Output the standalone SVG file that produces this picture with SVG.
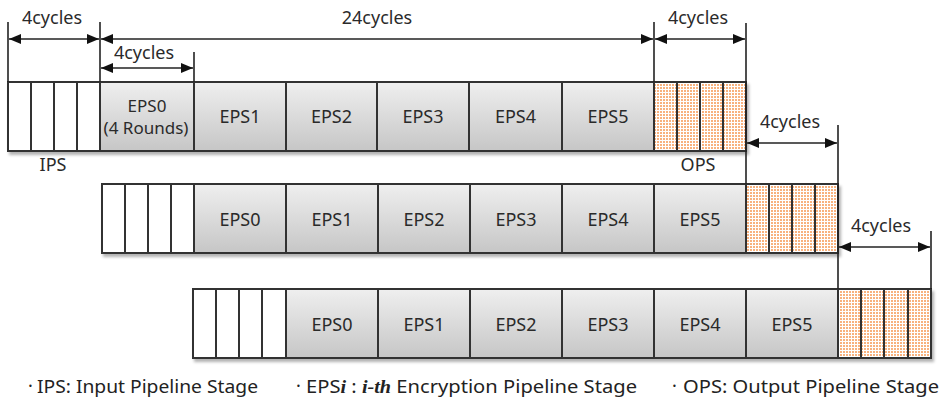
<svg xmlns="http://www.w3.org/2000/svg" width="943" height="403" viewBox="0 0 943 403">
  <defs>
    <linearGradient id="epsFill" x1="0" y1="0" x2="0" y2="1">
      <stop offset="0" stop-color="#efefef"/>
      <stop offset="1" stop-color="#c6c6c6"/>
    </linearGradient>
    <pattern id="opsDots" width="3" height="3" patternUnits="userSpaceOnUse">
      <rect width="3" height="3" fill="#ffffff"/>
      <rect width="2" height="2" fill="#f8b27e"/>
    </pattern>
    <filter id="shadow" x="-5%" y="-10%" width="115%" height="130%">
      <feDropShadow dx="2" dy="3" stdDeviation="1.6" flood-color="#000" flood-opacity="0.3"/>
    </filter>
    <marker id="arrow" viewBox="0 0 12 10" refX="12" refY="5" markerWidth="12" markerHeight="10" markerUnits="userSpaceOnUse" orient="auto-start-reverse">
      <path d="M0,0 L12,5 L0,10 Z" fill="#111"/>
    </marker>
  </defs>
  <style>
    .ips { fill: #ffffff; stroke: #333; stroke-width: 2; }
    .eps { fill: url(#epsFill); stroke: #333; stroke-width: 2; }
    .ops { fill: url(#opsDots); stroke: #333; stroke-width: 2; }
    .lbl { font-family: "Noto Sans", "Open Sans", sans-serif; font-size: 18px; fill: #2a2a2a; text-anchor: middle; }
    .small { font-size: 17px; }
    .dim { stroke: #222; stroke-width: 1.6; fill: none; }
    .tick { stroke: #222; stroke-width: 1.6; }
    .leg { font-family: "Noto Sans", "Open Sans", sans-serif; font-size: 18px; fill: #222; }
    .it { font-family: "Liberation Serif", serif; font-style: italic; font-weight: bold; }
  </style>

  <!-- Pipeline row 1 -->
  <g id="row1" filter="url(#shadow)">
    <g id="r1-ips">
      <rect class="ips" x="8" y="82" width="92" height="69"/>
      <line class="ips" x1="31" y1="82" x2="31" y2="151"/>
      <line class="ips" x1="54" y1="82" x2="54" y2="151"/>
      <line class="ips" x1="77" y1="82" x2="77" y2="151"/>
    </g>
    <g id="r1-eps0"><rect class="eps" x="100" y="82" width="94" height="69"/></g>
    <g id="r1-eps1"><rect class="eps" x="194" y="82" width="92" height="69"/></g>
    <g id="r1-eps2"><rect class="eps" x="286" y="82" width="91" height="69"/></g>
    <g id="r1-eps3"><rect class="eps" x="377" y="82" width="92" height="69"/></g>
    <g id="r1-eps4"><rect class="eps" x="469" y="82" width="93" height="69"/></g>
    <g id="r1-eps5"><rect class="eps" x="562" y="82" width="92" height="69"/></g>
    <g id="r1-ops">
      <rect class="ops" x="654" y="82" width="92" height="69"/>
      <line class="ips" x1="677" y1="82" x2="677" y2="151"/>
      <line class="ips" x1="700" y1="82" x2="700" y2="151"/>
      <line class="ips" x1="723" y1="82" x2="723" y2="151"/>
    </g>
  </g>
  <g id="row1-labels">
    <text class="lbl small" x="147" y="112">EPS0</text>
    <text class="lbl small" x="146" y="134">(4 Rounds)</text>
    <text class="lbl" x="240" y="123">EPS1</text>
    <text class="lbl" x="331.5" y="123">EPS2</text>
    <text class="lbl" x="423" y="123">EPS3</text>
    <text class="lbl" x="515.5" y="123">EPS4</text>
    <text class="lbl" x="608" y="123">EPS5</text>
    <text class="lbl" x="53" y="171">IPS</text>
    <text class="lbl" x="698" y="171">OPS</text>
  </g>

  <!-- Pipeline row 2 -->
  <g id="row2" filter="url(#shadow)">
    <g id="r2-ips">
      <rect class="ips" x="102" y="184" width="92" height="69"/>
      <line class="ips" x1="125" y1="184" x2="125" y2="253"/>
      <line class="ips" x1="148" y1="184" x2="148" y2="253"/>
      <line class="ips" x1="171" y1="184" x2="171" y2="253"/>
    </g>
    <g id="r2-eps0"><rect class="eps" x="194" y="184" width="92" height="69"/></g>
    <g id="r2-eps1"><rect class="eps" x="286" y="184" width="92" height="69"/></g>
    <g id="r2-eps2"><rect class="eps" x="378" y="184" width="92" height="69"/></g>
    <g id="r2-eps3"><rect class="eps" x="470" y="184" width="92" height="69"/></g>
    <g id="r2-eps4"><rect class="eps" x="562" y="184" width="92" height="69"/></g>
    <g id="r2-eps5"><rect class="eps" x="654" y="184" width="92" height="69"/></g>
    <g id="r2-ops">
      <rect class="ops" x="746" y="184" width="92" height="69"/>
      <line class="ips" x1="769" y1="184" x2="769" y2="253"/>
      <line class="ips" x1="792" y1="184" x2="792" y2="253"/>
      <line class="ips" x1="815" y1="184" x2="815" y2="253"/>
    </g>
  </g>
  <g id="row2-labels">
    <text class="lbl" x="240" y="226">EPS0</text>
    <text class="lbl" x="332" y="226">EPS1</text>
    <text class="lbl" x="424" y="226">EPS2</text>
    <text class="lbl" x="516" y="226">EPS3</text>
    <text class="lbl" x="608" y="226">EPS4</text>
    <text class="lbl" x="700" y="226">EPS5</text>
  </g>

  <!-- Pipeline row 3 -->
  <g id="row3" filter="url(#shadow)">
    <g id="r3-ips">
      <rect class="ips" x="193" y="289" width="93" height="69"/>
      <line class="ips" x1="216" y1="289" x2="216" y2="358"/>
      <line class="ips" x1="239" y1="289" x2="239" y2="358"/>
      <line class="ips" x1="262" y1="289" x2="262" y2="358"/>
    </g>
    <g id="r3-eps0"><rect class="eps" x="286" y="289" width="92" height="69"/></g>
    <g id="r3-eps1"><rect class="eps" x="378" y="289" width="92" height="69"/></g>
    <g id="r3-eps2"><rect class="eps" x="470" y="289" width="92" height="69"/></g>
    <g id="r3-eps3"><rect class="eps" x="562" y="289" width="92" height="69"/></g>
    <g id="r3-eps4"><rect class="eps" x="654" y="289" width="92" height="69"/></g>
    <g id="r3-eps5"><rect class="eps" x="746" y="289" width="92" height="69"/></g>
    <g id="r3-ops">
      <rect class="ops" x="838" y="289" width="93" height="69"/>
      <line class="ips" x1="861" y1="289" x2="861" y2="358"/>
      <line class="ips" x1="884" y1="289" x2="884" y2="358"/>
      <line class="ips" x1="908" y1="289" x2="908" y2="358"/>
    </g>
  </g>
  <g id="row3-labels">
    <text class="lbl" x="332" y="331">EPS0</text>
    <text class="lbl" x="424" y="331">EPS1</text>
    <text class="lbl" x="516" y="331">EPS2</text>
    <text class="lbl" x="608" y="331">EPS3</text>
    <text class="lbl" x="700" y="331">EPS4</text>
    <text class="lbl" x="792" y="331">EPS5</text>
  </g>

  <!-- Cycle dimension lines -->
  <g id="connectors">
    <line class="tick" x1="8" y1="22" x2="8" y2="82"/>
    <line class="tick" x1="100" y1="22" x2="100" y2="82"/>
    <line class="tick" x1="194" y1="52" x2="194" y2="82"/>
    <line class="tick" x1="654" y1="22" x2="654" y2="82"/>
    <line class="tick" x1="746" y1="23" x2="746" y2="184"/>
    <line class="tick" x1="838" y1="125" x2="838" y2="289"/>
    <line class="tick" x1="931" y1="231" x2="931" y2="289"/>

    <line class="dim" x1="9" y1="39" x2="99" y2="39" marker-start="url(#arrow)" marker-end="url(#arrow)"/>
    <line class="dim" x1="101" y1="39" x2="653" y2="39" marker-start="url(#arrow)" marker-end="url(#arrow)"/>
    <line class="dim" x1="101" y1="68" x2="193" y2="68" marker-start="url(#arrow)" marker-end="url(#arrow)"/>
    <line class="dim" x1="655" y1="39" x2="745" y2="39" marker-start="url(#arrow)" marker-end="url(#arrow)"/>
    <line class="dim" x1="747" y1="143" x2="837" y2="143" marker-start="url(#arrow)" marker-end="url(#arrow)"/>
    <line class="dim" x1="839" y1="247" x2="930" y2="247" marker-start="url(#arrow)" marker-end="url(#arrow)"/>
  </g>
  <g id="cycle-labels">
    <text class="lbl" x="52" y="24">4cycles</text>
    <text class="lbl" x="377" y="24">24cycles</text>
    <text class="lbl" x="144" y="59">4cycles</text>
    <text class="lbl" x="698" y="24">4cycles</text>
    <text class="lbl" x="790" y="128">4cycles</text>
    <text class="lbl" x="881" y="232">4cycles</text>
  </g>

  <!-- Legend -->
  <g id="legend">
    <text class="leg" x="28" y="392">·</text>
    <text class="leg" x="37" y="393" textLength="221" lengthAdjust="spacingAndGlyphs">IPS: Input Pipeline  Stage</text>
    <text class="leg" x="296" y="392">·</text>
    <text class="leg" x="306" y="393" textLength="331" lengthAdjust="spacingAndGlyphs">EPS<tspan class="it">i</tspan> : <tspan class="it">i-th</tspan> Encryption Pipeline Stage</text>
    <text class="leg" x="672" y="392">·</text>
    <text class="leg" x="683" y="393" textLength="256" lengthAdjust="spacingAndGlyphs">OPS: Output Pipeline Stage</text>
  </g>
</svg>
